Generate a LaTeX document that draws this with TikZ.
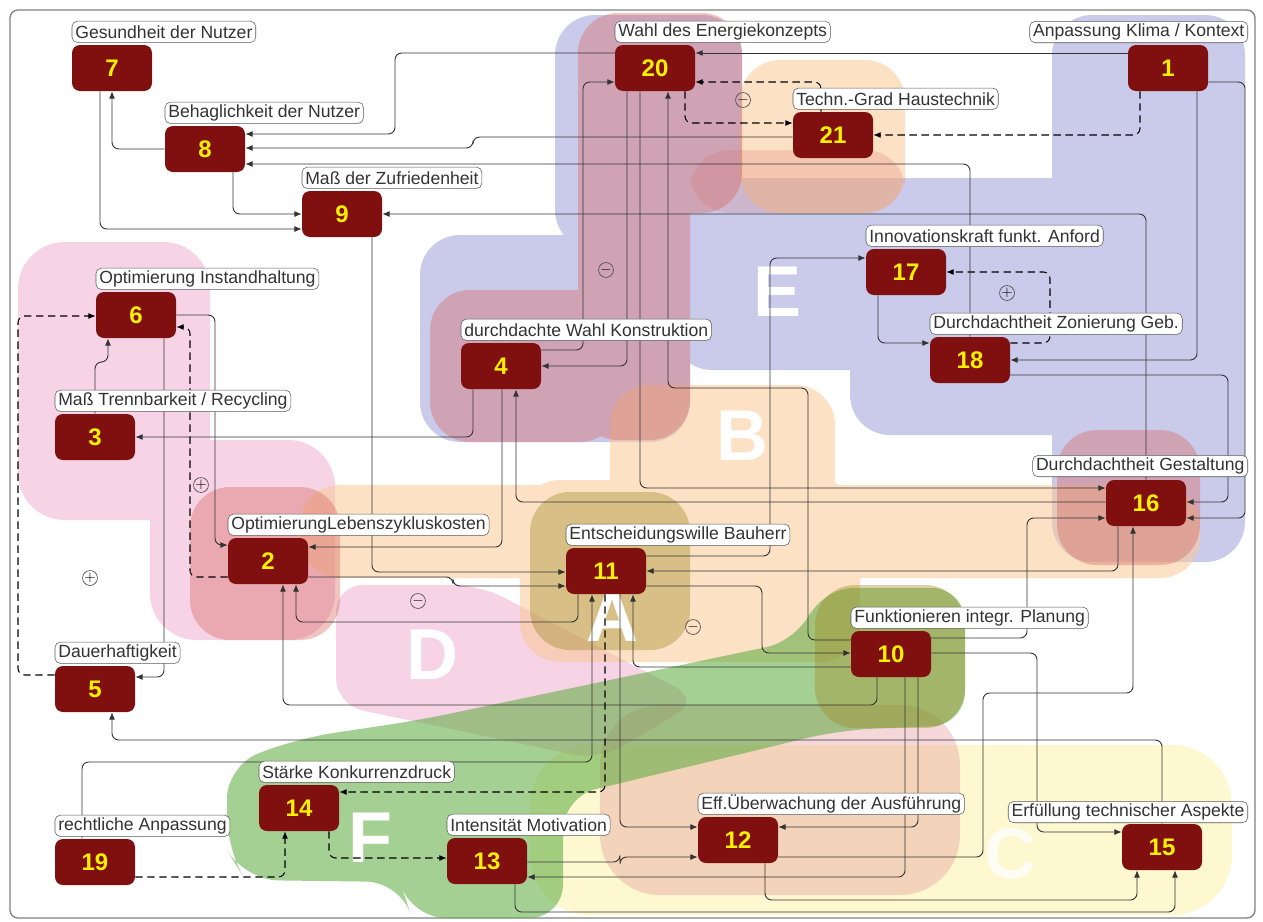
\documentclass[tikz,border=0pt]{standalone}
\usepackage{fontspec}
\setmainfont{Liberation Sans}
\usetikzlibrary{arrows.meta, positioning}

\definecolor{boxred}{RGB}{128,16,16}
\definecolor{numyellow}{RGB}{255,240,0}
\definecolor{zoneA}{RGB}{160,140,40}
\definecolor{zoneB}{RGB}{250,200,150}
\definecolor{zoneC}{RGB}{250,240,150}
\definecolor{zoneD}{RGB}{235,160,200}
\definecolor{zoneE}{RGB}{150,150,215}
\definecolor{zoneF}{RGB}{90,170,60}
\definecolor{zoneR}{RGB}{215,100,90}

\pgfdeclarelayer{zones}
\pgfdeclarelayer{wires}
\pgfsetlayers{zones,wires,main}

\tikzset{
  box/.style={fill=boxred, rounded corners=6pt, minimum width=60pt, minimum height=34.5pt, inner sep=0pt, text=numyellow, font=\fontsize{18}{20}\selectfont\bfseries},
  tag/.style={draw=black!65, fill=white, rounded corners=4pt, inner xsep=2.5pt, inner ysep=0pt, minimum height=16pt, text=black!80, font=\fontsize{13.2}{15}\selectfont},
  link/.style={draw=black!80, line width=0.7pt, rounded corners=5pt, -{Latex[length=5.5pt,width=4.5pt]}},
  weak/.style={link, draw=black, line width=0.8pt, dash pattern=on 5.5pt off 3.5pt},
  sign/.style={circle, draw=black!70, line width=0.5pt, minimum size=10.5pt, inner sep=0pt, font=\fontsize{11}{11}\selectfont},
  zone/.style={font=\fontsize{54}{54}\selectfont\bfseries, text=white},
}

\begin{document}
\begin{tikzpicture}[x=0.75pt,y=0.75pt,yscale=-1,xscale=1]
\useasboundingbox (0,0) rectangle (1263,921);

% factor boxes
\node[box] (n1) at (1168,68) {1};
\node[box] (n2) at (268,561) {2};
\node[box] (n3) at (95,437) {3};
\node[box] (n4) at (501,366) {4};
\node[box] (n5) at (95,689) {5};
\node[box] (n6) at (136,315) {6};
\node[box] (n7) at (112,68) {7};
\node[box] (n8) at (205,149) {8};
\node[box] (n9) at (342,214) {9};
\node[box] (n10) at (891,654) {10};
\node[box] (n11) at (606,571) {11};
\node[box] (n12) at (738,840) {12};
\node[box] (n13) at (487,861) {13};
\node[box] (n14) at (299,808) {14};
\node[box] (n15) at (1162,847) {15};
\node[box] (n16) at (1146,503) {16};
\node[box] (n17) at (906,272) {17};
\node[box] (n18) at (970,360) {18};
\node[box] (n19) at (95,862) {19};
\node[box] (n20) at (655,68) {20};
\node[box] (n21) at (833,135) {21};

% names above the boxes
\node[tag, anchor=south east] (t1) at (1248,43) {Anpassung Klima / Kontext};
\node[tag, above right=1.5pt and 0pt of n2.north west] (t2) {OptimierungLebenszykluskosten};
\node[tag, above right=1.5pt and 0pt of n3.north west] (t3) {Maß Trennbarkeit / Recycling};
\node[tag, above right=1.5pt and 0pt of n4.north west] (t4) {durchdachte Wahl Konstruktion};
\node[tag, above right=1.5pt and 0pt of n5.north west] (t5) {Dauerhaftigkeit};
\node[tag, above right=1.5pt and 0pt of n6.north west] (t6) {Optimierung Instandhaltung};
\node[tag, above right=1.5pt and 0pt of n7.north west] (t7) {Gesundheit der Nutzer};
\node[tag, above right=1.5pt and 0pt of n8.north west] (t8) {Behaglichkeit der Nutzer};
\node[tag, above right=1.5pt and 0pt of n9.north west] (t9) {Maß der Zufriedenheit};
\node[tag, above right=1.5pt and 0pt of n10.north west] (t10) {Funktionieren integr. Planung};
\node[tag, above right=1.5pt and 0pt of n11.north west] (t11) {Entscheidungswille Bauherr};
\node[tag, above right=1.5pt and 0pt of n12.north west] (t12) {Eff.Überwachung der Ausführung};
\node[tag, above right=1.5pt and 0pt of n13.north west] (t13) {Intensität Motivation};
\node[tag, above right=1.5pt and 0pt of n14.north west] (t14) {Stärke Konkurrenzdruck};
\node[tag, anchor=south east] (t15) at (1248,823) {Erfüllung technischer Aspekte};
\node[tag, anchor=south east] (t16) at (1248,477) {Durchdachtheit Gestaltung};
\node[tag, above right=1.5pt and 0pt of n17.north west] (t17) {Innovationskraft funkt. Anford};
\node[tag, above right=1.5pt and 0pt of n18.north west] (t18) {Durchdachtheit Zonierung Geb.};
\node[tag, above right=1.5pt and 0pt of n19.north west] (t19) {rechtliche Anpassung};
\node[tag, above right=1.5pt and 0pt of n20.north west] (t20) {Wahl des Energiekonzepts};
\node[tag, above right=1.5pt and 0pt of n21.north west] (t21) {Techn.-Grad Haustechnik};

\begin{pgfonlayer}{zones}
% frame
\draw[black!50, line width=1pt, rounded corners=6pt] (10,10) rectangle (1255,918);
% zone C
\fill[zoneC, fill opacity=.45, rounded corners=45pt] (530,745) rectangle (1232,915);
% zone D
\fill[zoneD, fill opacity=.45, rounded corners=35pt] (18,242) rectangle (210,520) (150,440) rectangle (335,640);
\fill[zoneD, fill opacity=.45, rounded corners=20pt] (336,585) -- (336,705) -- (600,760) -- (700,700) -- (480,585) -- cycle;
% zone E
\fill[zoneE, fill opacity=.5, rounded corners=30pt] (555,15) rectangle (742,250) (420,235) rectangle (690,442)
  (672,178) rectangle (1245,370) (850,300) rectangle (1245,435) (1052,15) rectangle (1245,562);
% zone B
\fill[zoneB, fill opacity=.55, rounded corners=30pt] (740,60) rectangle (905,213) (610,385) rectangle (835,520)
  (300,485) rectangle (1200,578) (520,480) rectangle (860,662);
% red patches
\fill[zoneR, fill opacity=.38, rounded corners=30pt] (578,13) rectangle (742,213) (578,13) rectangle (690,440)
  (430,290) rectangle (620,442) (190,487) rectangle (340,640) (1057,430) rectangle (1200,565);
\fill[zoneR, fill opacity=.2, rounded corners=30pt] (690,150) rectangle (905,213);
\fill[zoneR!60!zoneD, fill opacity=.3, rounded corners=45pt] (600,705) rectangle (960,895);
% zone F
\fill[zoneF, fill opacity=.55, rounded corners=25pt] (227,765) -- (227,850) -- (245,880) -- (400,882)
  -- (412,918) -- (563,918) -- (563,797) -- (840,730) -- (965,725) -- (965,588) -- (820,588) -- (800,640)
  -- (420,720) -- (300,738) -- cycle;
% zone A
\fill[zoneA, fill opacity=.4, rounded corners=30pt] (530,492) rectangle (690,650) (815,585) rectangle (965,728);
% zone letters
\node[zone] (zA) at (612,617) {A};
\node[zone] (zB) at (742,436) {B};
\node[zone, text opacity=.75] (zC) at (1010,854) {C};
\node[zone] (zD) at (432,655) {D};
\node[zone] (zE) at (778,292) {E};
\node[zone] (zF) at (370,838) {F};
\end{pgfonlayer}

\begin{pgfonlayer}{wires}
% top left group
\draw[link] (n8.west) -| (n7.south);
\draw[link] (n7.south -| 100,0) |- (n9.west |- 0,229);
\draw[link] (n8.south -| 233,0) |- (n9.west |- 0,214);
\draw[link] (n20.west |- 0,53) -| (395,134) -- (n8.east |- 0,134);
\draw[link] (n21.west |- 0,137) -| (473,148) -- (n8.east |- 0,148);
\draw[link] (n18.north) |- (n8.east |- 0,164);
\draw[link] (n16.north) |- (n9.east);
\draw[link] (n9.south -| 372,0) |- (n11.west |- 0,572);
% energy concept
\draw[link] (n1.west |- 0,53) -- (n20.east |- 0,53);
\draw[weak] (n1.south -| 1140,0) |- (n21.east |- 0,135);
\draw[weak] (n20.south -| 685,0) |- (n21.west |- 0,123);
\draw[weak] (n21.north -| 821,0) |- (n20.east |- 0,82);
\draw[link] (n4.east |- 0,350) -| (583,82) -- (n20.west |- 0,82);
\draw[link] (n20.south -| 627,0) |- (n4.east |- 0,366);
\draw[link] (n20.south -| 640,0) |- (n16.west |- 0,488);
\draw[link] (n10.west |- 0,640) -| (808,388) -| (n20.south -| 668,0);
% construction
\draw[link] (n4.south -| 473,0) |- (n3.east);
\draw[link] (n4.south -| 502,0) |- (n2.east |- 0,547);
\draw[link] (n16.west |- 0,502) -| (n4.south -| 516,0);
\draw[link] (n2.east |- 0,577) -| (453,586) -- (n11.west |- 0,586);
% left group
\draw[weak] (n2.west |- 0,577) -| (190,327) -- (n6.east |- 0,327);
\draw[link] (n6.east |- 0,315) -| (215,545) -- (n2.west |- 0,545);
\draw[link] (n3.north) |- (108,362) -- (n6.south -| 108,0);
\draw[weak] (n5.west |- 0,675) -| (18,316) -- (n6.west |- 0,316);
\draw[link] (n6.south -| 164,0) |- (n5.east |- 0,677);
\draw[link] (n15.north -| 1162,0) |- (112,740) -- (n5.south -| 112,0);
% client and planning
\draw[link] (n11.east |- 0,586) -| (762,653) -- (n10.west |- 0,653);
\draw[link] (n16.south -| 1118,0) |- (n11.east);
\draw[link] (n11.south -| 578,0) |- (296,622) -- (n2.south -| 296,0);
\draw[link] (n10.south -| 877,0) |- (283,705) -- (n2.south -| 283,0);
\draw[link] (n19.north -| 82,0) |- (592,762) -- (n11.south -| 592,0);
\draw[link] (n11.south -| 620,0) |- (n12.west |- 0,827);
\draw[link] (n10.west |- 0,667) -| (n11.south -| 633,0);
\draw[link] (n11.east |- 0,556) -| (770,258) -- (n17.west |- 0,258);
% competition
\draw[weak] (n11.south -| 605,0) |- (n14.east |- 0,792);
\draw[weak] (n14.south -| 329,0) |- (n13.west |- 0,858);
\draw[weak] (n19.east |- 0,877) -| (n14.south -| 285,0);
\draw[link] (n13.east |- 0,862) -| (620,857) -- (n12.west |- 0,857);
% execution
\draw[link] (n10.south -| 905,0) |- (n13.east |- 0,877);
\draw[link] (n10.south -| 918,0) |- (n12.east |- 0,827);
\draw[link] (n12.east |- 0,857) -| (983,693) -| (n16.south -| 1133,0);
\draw[link] (n12.south -| 765,0) |- (1137,900) -- (n15.south -| 1137,0);
\draw[link] (n13.south -| 515,0) |- (1175,912) -- (n15.south -| 1175,0);
\draw[link] (n10.east |- 0,653) -| (1037,832) -- (n15.west |- 0,832);
\draw[link] (n10.east |- 0,638) -| (1027,518) -- (n16.west |- 0,518);
% right group
\draw[weak] (n18.east |- 0,343) -| (1050,272) -- (n17.east |- 0,272);
\draw[link] (n17.south -| 878,0) |- (n18.west |- 0,343);
\draw[link] (n1.south -| 1197,0) |- (n18.east |- 0,360);
\draw[link] (n18.east |- 0,375) -| (1228,502) -- (n16.east |- 0,502);
\draw[link] (n1.east |- 0,82) -| (1245,518) -- (n16.east |- 0,518);
\end{pgfonlayer}

% signs of the loops
\node[sign] (s1) at (743,100) {$-$};
\node[sign] (s2) at (606,270) {$-$};
\node[sign] (s3) at (1007,293) {$+$};
\node[sign] (s4) at (201,485) {$+$};
\node[sign] (s5) at (90,578) {$+$};
\node[sign] (s6) at (418,601) {$-$};
\node[sign] (s7) at (693,627) {$-$};

\end{tikzpicture}
\end{document}
